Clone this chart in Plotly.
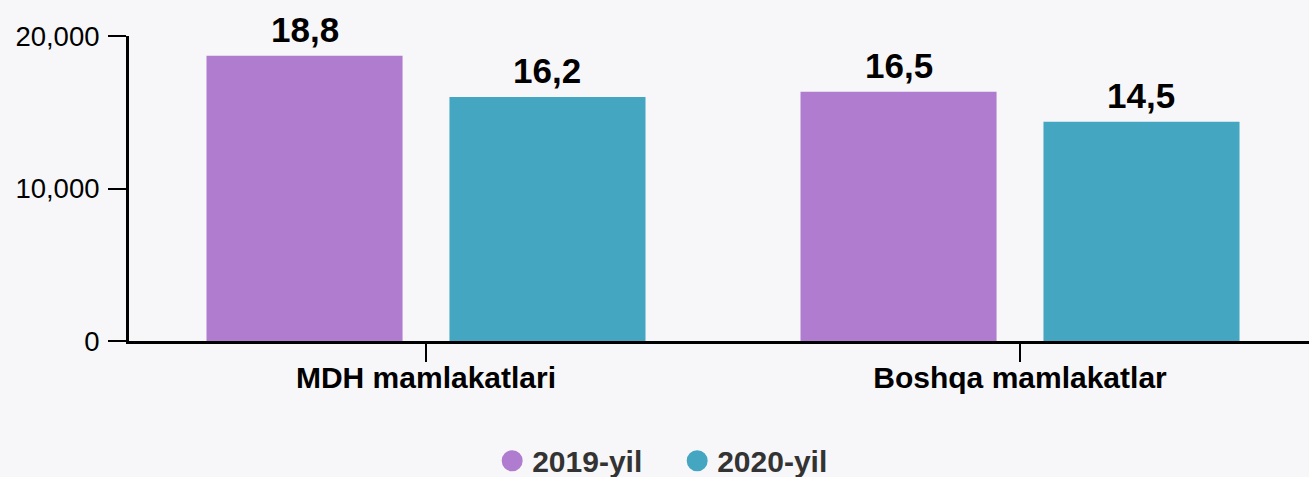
import plotly.graph_objects as go

categories = ["MDH mamlakatlari", "Boshqa mamlakatlar"]
series_names = ["2019-yil", "2020-yil"]
values_2019 = [18700, 16350]
values_2020 = [16000, 14380]
labels_2019 = ["18,8", "16,5"]
labels_2020 = ["16,2", "14,5"]
colors = ["#b07cd0", "#45a6c1"]
y_ticks = [0, 10000, 20000]

FONT = "Liberation Sans, Arial, sans-serif"

BARGAP = 0.182
BARGROUPGAP = 0.193
PLOT_W = 1309 - 129
X_RANGE = [-0.5, 1.4865]
px_per_cat = PLOT_W / (X_RANGE[1] - X_RANGE[0])
slot_px = px_per_cat * (1 - BARGAP) / 2
offsets = [-slot_px / 2, slot_px / 2]

fig = go.Figure()
series = [
    (series_names[0], values_2019, labels_2019, colors[0]),
    (series_names[1], values_2020, labels_2020, colors[1]),
]
for i, (name, vals, labs, col) in enumerate(series):
    fig.add_trace(go.Bar(
        x=categories, y=vals, name=name, marker=dict(color=col, line=dict(width=0)),
        showlegend=False, hoverinfo="x+y",
    ))
    fig.add_trace(go.Scatter(
        x=[None], y=[None], mode="markers", name=name,
        marker=dict(color=col, size=16, symbol="circle", line=dict(color=col, width=5)),
        showlegend=True,
    ))
    for cat, v, lab in zip(categories, vals, labs):
        fig.add_annotation(
            x=cat, y=v, text=lab, showarrow=False, xshift=offsets[i],
            yanchor="bottom", yshift=5,
            font=dict(family=FONT, size=35, color="#000000", weight="bold"),
        )

fig.update_layout(
    width=1309, height=477,
    margin=dict(l=129, r=0, t=36, b=136),
    paper_bgcolor="#f7f7f9", plot_bgcolor="#f7f7f9",
    barmode="group", bargap=BARGAP, bargroupgap=BARGROUPGAP,
    font=dict(family=FONT, color="#000000"),
    legend=dict(
        orientation="h", xref="container", x=0.376, xanchor="left",
        yref="container", y=0.034, yanchor="middle",
        font=dict(family=FONT, size=30, color="#333333", weight="bold"),
        bgcolor="rgba(0,0,0,0)", itemsizing="trace",
        entrywidth=140, entrywidthmode="pixels",
    ),
    xaxis=dict(
        range=X_RANGE, showline=True, linewidth=3, linecolor="#000000",
        ticks="outside", ticklen=18, tickwidth=2, tickcolor="#000000",
        showgrid=False, zeroline=False, ticklabelstandoff=-10,
        tickfont=dict(family=FONT, size=30, color="#000000", weight="bold"),
    ),
    yaxis=dict(
        range=[0, 20000], tickvals=y_ticks, tickformat=",",
        showline=True, linewidth=3, linecolor="#000000",
        ticks="outside", ticklen=18, tickwidth=2, tickcolor="#000000",
        showgrid=False, zeroline=False, ticklabelstandoff=3,
        tickfont=dict(family=FONT, size=27.5, color="#000000"),
    ),
)

fig.write_html(
    "out.html",
    config={"displayModeBar": False},
    post_script="document.body.style.margin='0';document.body.style.background='#f7f7f9';",
)
